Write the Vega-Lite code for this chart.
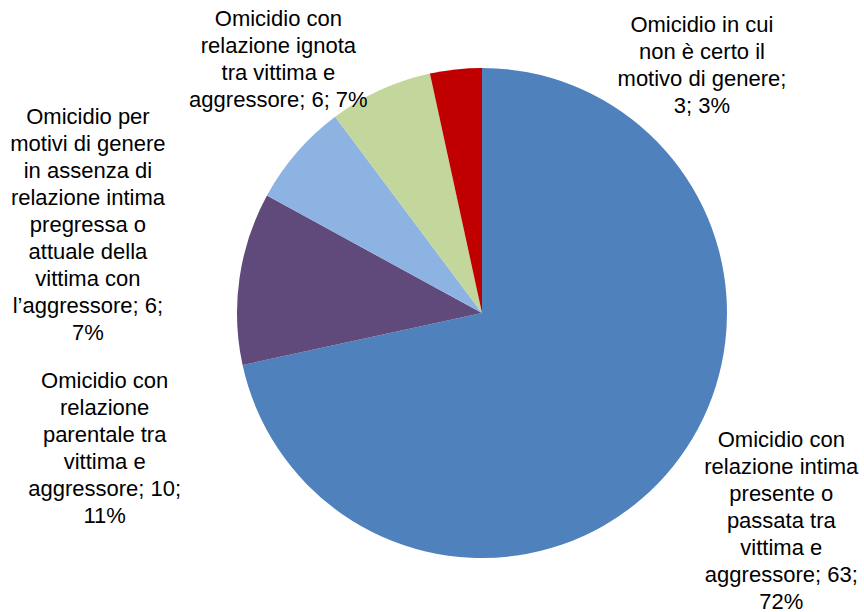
{
  "$schema": "https://vega.github.io/schema/vega-lite/v6.json",
  "width": 764,
  "height": 598,
  "autosize": {"type": "none"},
  "padding": {"left": 100, "top": 14, "right": 0, "bottom": 0},
  "background": "white",
  "view": {"stroke": null},
  "config": {"text": {"font": "Liberation Sans", "fontSize": 22, "lineHeight": 27, "lineBreak": "\n", "align": "center", "baseline": "middle", "color": "black"}},
  "data": {"values": [
    {"categoria": "relazione intima", "valore": 63, "ordine": 1, "etichetta": "Omicidio con\nrelazione intima\npresente o\npassata tra\nvittima e\naggressore; 63;\n72%"},
    {"categoria": "relazione parentale", "valore": 10, "ordine": 2, "etichetta": "Omicidio con\nrelazione\nparentale tra\nvittima e\naggressore; 10;\n11%"},
    {"categoria": "motivi di genere senza relazione", "valore": 6, "ordine": 3, "etichetta": "Omicidio per\nmotivi di genere\nin assenza di\nrelazione intima\npregressa o\nattuale della\nvittima con\nl’aggressore; 6;\n7%"},
    {"categoria": "relazione ignota", "valore": 6, "ordine": 4, "etichetta": "Omicidio con\nrelazione ignota\ntra vittima e\naggressore; 6; 7%"},
    {"categoria": "motivo incerto", "valore": 3, "ordine": 5, "etichetta": "Omicidio in cui\nnon è certo il\nmotivo di genere;\n3; 3%"}
  ]},
  "transform": [
    {"stack": "valore", "groupby": [], "sort": [{"field": "ordine", "order": "ascending"}], "as": ["v0", "v1"]},
    {"calculate": "(datum.v0 + datum.v1) / 2", "as": "mid"}
  ],
  "layer": [
    {
      "mark": {"type": "arc", "outerRadius": 245, "strokeWidth": 0},
      "encoding": {
        "theta": {"field": "v0", "type": "quantitative", "scale": {"domain": [0, 88], "range": [0, 6.283185307]}},
        "theta2": {"field": "v1"},
        "color": {"field": "categoria", "type": "nominal", "legend": null,
          "scale": {"domain": ["relazione intima", "relazione parentale", "motivi di genere senza relazione", "relazione ignota", "motivo incerto"],
                    "range": ["#4F81BD", "#604A7B", "#8DB3E2", "#C3D69B", "#C00000"]}}
      }
    },
    {
      "transform": [{"filter": "datum.ordine == 1"}],
      "mark": {"type": "text", "radius": 360, "dx": 19, "dy": -99},
      "encoding": {"theta": {"field": "mid", "type": "quantitative"}, "text": {"field": "etichetta"}}
    },
    {
      "transform": [{"filter": "datum.ordine == 2"}],
      "mark": {"type": "text", "radius": 360, "dx": -21, "dy": 119},
      "encoding": {"theta": {"field": "mid", "type": "quantitative"}, "text": {"field": "etichetta"}}
    },
    {
      "transform": [{"filter": "datum.ordine == 3"}],
      "mark": {"type": "text", "radius": 360, "dx": -122, "dy": 40},
      "encoding": {"theta": {"field": "mid", "type": "quantitative"}, "text": {"field": "etichetta"}}
    },
    {
      "transform": [{"filter": "datum.ordine == 4"}],
      "mark": {"type": "text", "radius": 300, "dx": -79, "dy": -21},
      "encoding": {"theta": {"field": "mid", "type": "quantitative"}, "text": {"field": "etichetta"}}
    },
    {
      "transform": [{"filter": "datum.ordine == 5"}],
      "mark": {"type": "text", "radius": 300, "dx": 252, "dy": 10},
      "encoding": {"theta": {"field": "mid", "type": "quantitative"}, "text": {"field": "etichetta"}}
    }
  ]
}
